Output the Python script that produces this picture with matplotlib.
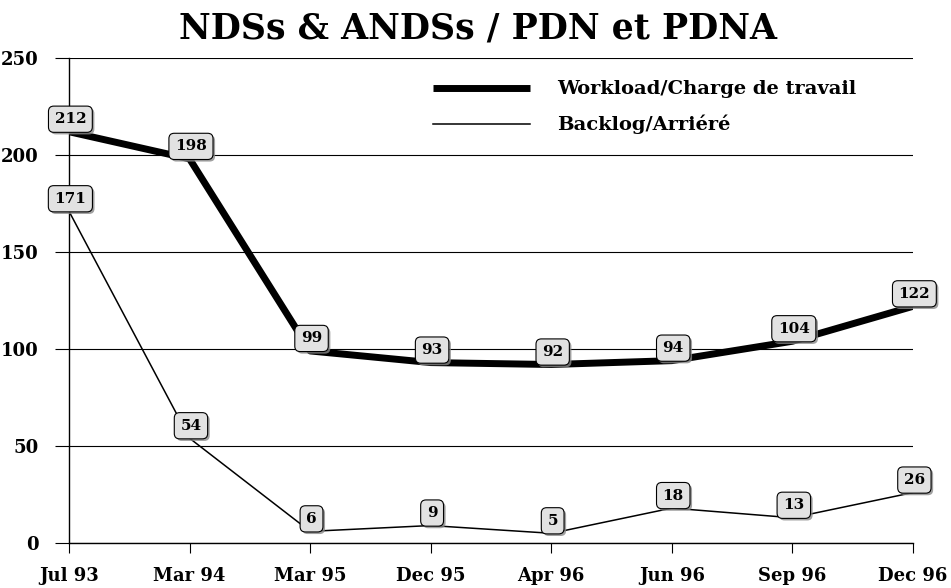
import matplotlib.pyplot as plt
import matplotlib.patheffects as pe

# data
periods = ["Jul 93", "Mar 94", "Mar 95", "Dec 95", "Apr 96", "Jun 96", "Sep 96", "Dec 96"]
workload = [212, 198, 99, 93, 92, 94, 104, 122]
backlog = [171, 54, 6, 9, 5, 18, 13, 26]

FONT = "DejaVu Serif"

fig = plt.figure(figsize=(9.51, 5.88), dpi=100)
ax = fig.add_axes([69 / 951, 45 / 588, (913 - 69) / 951, (543 - 58) / 588])

x = list(range(len(periods)))
ax.plot(x, workload, color="black", lw=5, solid_capstyle="butt", zorder=3,
        label="Workload/Charge de travail")
ax.plot(x, backlog, color="black", lw=1.1, zorder=3, label="Backlog/Arriéré")


def add_label(xi, v):
    t = ax.annotate(str(v), (xi, v), xytext=(1, 9), textcoords="offset points",
                    ha="center", va="center", fontsize=11, fontweight="bold",
                    family=FONT, zorder=5, annotation_clip=False,
                    bbox=dict(boxstyle="round,pad=0.4,rounding_size=0.35",
                              fc="#e2e2e2", ec="black", lw=0.8))
    t.get_bbox_patch().set_path_effects(
        [pe.SimplePatchShadow(offset=(1.5, -1.5), shadow_rgbFace="#888888", alpha=0.8),
         pe.Normal()])


for xi, v in zip(x, workload):
    add_label(xi, v)
for xi, v in zip(x, backlog):
    add_label(xi, v)

ax.set_xlim(0, len(periods) - 1)
ax.set_ylim(0, 250)
ax.set_yticks([0, 50, 100, 150, 200, 250])
ax.set_xticks(x)
ax.set_xticklabels(periods)
ax.yaxis.grid(True, color="black", lw=0.8)
ax.set_axisbelow(True)
for s in ["top", "right"]:
    ax.spines[s].set_visible(False)
ax.spines["left"].set_linewidth(1)
ax.spines["bottom"].set_linewidth(1)
ax.tick_params(axis="y", direction="out", length=10, width=0.8, pad=12)
ax.tick_params(axis="x", direction="out", length=7, width=0.8, pad=10)
for lab in ax.get_xticklabels() + ax.get_yticklabels():
    lab.set_family(FONT)
    lab.set_fontweight("bold")
    lab.set_fontsize(13)

leg = ax.legend(loc="upper left", bbox_to_anchor=(0.41, 0.99), frameon=False,
                handlelength=5.0, handletextpad=1.4, labelspacing=0.85,
                prop={"family": FONT, "weight": "bold", "size": 14})

fig.suptitle("NDSs & ANDSs / PDN et PDNA", x=478 / 951, y=0.98,
             family=FONT, fontweight="bold", fontsize=25)

fig.savefig("out.png", dpi=100)
